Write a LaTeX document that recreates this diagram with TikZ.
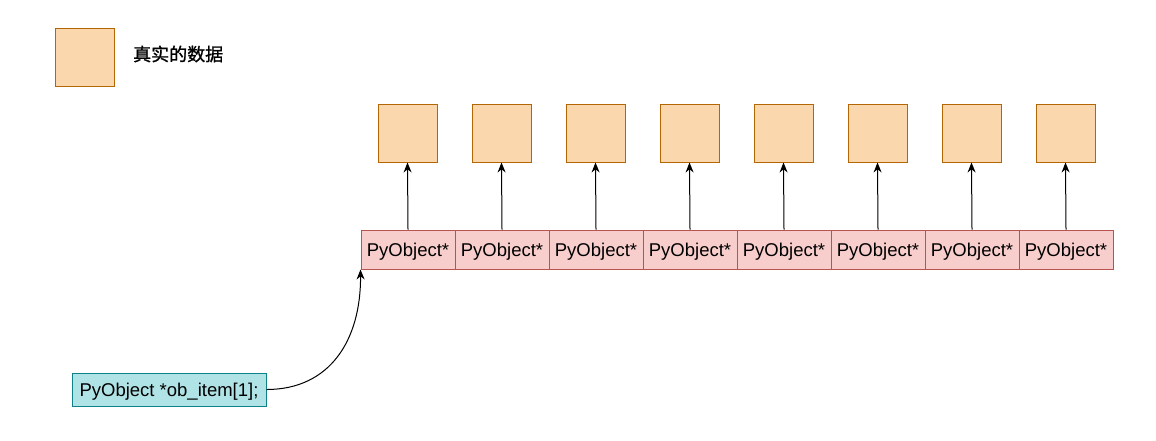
\documentclass[tikz,border=0pt]{standalone}
\usepackage{fontspec}
\setmainfont{Liberation Sans}
\newfontfamily\cjk[FakeBold=1.2]{Noto Sans CJK SC}
\usetikzlibrary{arrows.meta}
\definecolor{dataFill}{HTML}{FAD7AC}
\definecolor{dataLine}{HTML}{B46504}
\definecolor{cellFill}{HTML}{F8CECC}
\definecolor{cellLine}{HTML}{B85450}
\definecolor{varFill}{HTML}{B0E3E6}
\definecolor{varLine}{HTML}{0E8088}
\tikzset{
  databox/.style={draw=dataLine, fill=dataFill, line width=1pt, minimum width=59pt, minimum height=58pt, inner sep=0pt},
  cellbox/.style={draw=cellLine, fill=cellFill, line width=1pt, minimum width=94pt, minimum height=39pt, inner sep=0pt, text height=13.3pt, text depth=0pt, font=\fontsize{18.5}{20}\selectfont},
  varbox/.style={draw=varLine, fill=varFill, line width=1pt, minimum width=194pt, minimum height=33pt, inner sep=0pt, text height=13.3pt, text depth=0pt, font=\fontsize{18.5}{20}\selectfont},
  ptr/.style={-{Stealth[length=10pt,width=8pt]}, line width=1pt}
}
\begin{document}
\begin{tikzpicture}[x=1pt,y=-1pt]
\useasboundingbox (0,0) rectangle (1156,440);
\node[databox] (legend) at (85,57) {};
\node[anchor=west, inner sep=0pt, font=\cjk\fontsize{18}{20}\selectfont] (legendtext) at (133,54) {真实的数据};
\foreach \i in {0,...,7} {
  \node[databox] (d\i) at (407.5+94*\i,133) {};
  \node[cellbox] (c\i) at (408+94*\i,249.5) {PyObject*};
  \draw[ptr] (c\i.north) -- (d\i.south);
}
\node[varbox] (var) at (169,389.5) {PyObject *ob\_item[1];};
\draw[ptr] (var.east) .. controls (330,389.5) and (361,340) .. (c0.south west);
\end{tikzpicture}
\end{document}
